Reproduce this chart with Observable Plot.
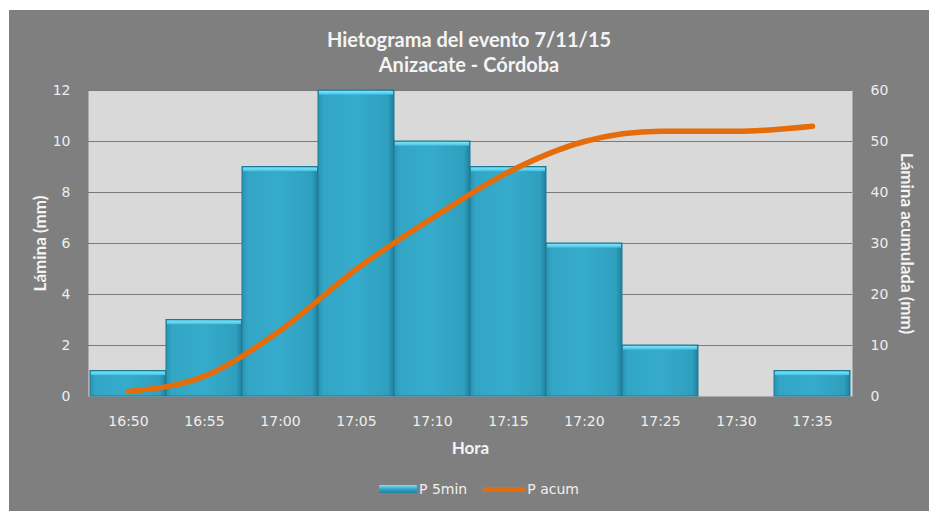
<!DOCTYPE html>
<html><head><meta charset="utf-8">
<script src="https://cdn.jsdelivr.net/npm/d3@7"></script>
<script src="https://cdn.jsdelivr.net/npm/@observablehq/plot@0.6"></script>
<style>
html,body{margin:0;padding:0;background:#fff;}
#box{position:absolute;left:9px;top:10px;width:920px;height:501px;background:#7f7f7f;overflow:hidden;font-family:Lato,"Open Sans",sans-serif;}
#title{position:absolute;left:0;width:920px;top:17px;text-align:center;color:#f4f4f4;font-weight:bold;font-size:20px;line-height:25px;}
#chart{position:absolute;left:0;top:0;}
#legend{position:absolute;top:470px;left:10px;width:920px;text-align:center;color:#f0f0f0;font-family:"DejaVu Sans",sans-serif;font-size:14px;}
#legend span{display:inline-block;vertical-align:middle;}
</style></head>
<body>
<div id="box">
  <div id="chart"></div>
  <div id="title">Hietograma del evento 7/11/15<br>Anizacate - Córdoba</div>
  <div id="legend"></div>
</div>
<script>
const horas = ["16:50","16:55","17:00","17:05","17:10","17:15","17:20","17:25","17:30","17:35"];
const p5min = [1,3,9,12,10,9,6,2,0,1];
const pacum = [1,4,13,25,35,44,50,52,52,53];
const leftTicks = [0,2,4,6,8,10,12];
const rightTicks = [0,10,20,30,40,50,60];
const ratio = 5; // right axis / left axis

const data = horas.map((h,i)=>({h, p:p5min[i], a:pacum[i]}));
const barsData = data.filter(d=>d.p>0);

const plot = Plot.plot({
  width: 920, height: 460,
  marginLeft: 79, marginRight: 77, marginTop: 80, marginBottom: 74,
  style: {background:"transparent", fontFamily:"'DejaVu Sans',sans-serif", fontSize:"14px", color:"#eeeeee"},
  x: {domain: horas, padding: 0, label: null},
  y: {domain: [0,12], label: null},
  marks: [
    Plot.frame({fill:"#d9d9d9", stroke:null}),
    Plot.gridY(leftTicks.filter(t=>t>0), {stroke:"#7a7a7a", strokeOpacity:1, strokeWidth:1.2}),
    Plot.barY(barsData, {x:"h", y:"p", fill:"url(#barGrad)", stroke:"#1d7a95", strokeWidth:1}),
    Plot.rect(barsData, {x:"h", y1:d=>d.p, y2:d=>d.p-0.22, fill:"url(#topGrad)", inset:1}),
    Plot.line(data, {x:"h", y:d=>d.a/ratio, stroke:"#e46c0a", strokeWidth:5.5, curve:"monotone-x", strokeLinecap:"round"}),
    Plot.axisY(leftTicks, {anchor:"left", tickSize:0, tickPadding:18, label:null, fill:"#eeeeee"}),
    Plot.axisY(rightTicks.map(t=>t/ratio), {anchor:"right", tickSize:0, tickPadding:18, label:null, tickFormat:d=>Math.round(d*ratio), fill:"#eeeeee", textAnchor:"start"}),
    Plot.axisX({tickSize:0, tickPadding:20, label:null, fill:"#eeeeee"}),
    Plot.text(["Hora"], {frameAnchor:"bottom", textAnchor:"middle", dy:57, fontWeight:"bold", fontSize:17, fill:"#f4f4f4", fontFamily:"Lato"}),
    Plot.text(["Lámina (mm)"], {frameAnchor:"left", textAnchor:"middle", dx:-48, rotate:-90, fontWeight:"bold", fontSize:17, fill:"#f4f4f4", fontFamily:"Lato"}),
    Plot.text(["Lámina acumulada (mm)"], {frameAnchor:"right", textAnchor:"middle", dx:54, rotate:90, fontWeight:"bold", fontSize:17, fill:"#f4f4f4", fontFamily:"Lato"})
  ]
});

const ns = "http://www.w3.org/2000/svg";
const defs = document.createElementNS(ns, "defs");
defs.innerHTML = `
<linearGradient id="barGrad" x1="0" x2="1" y1="0" y2="0">
  <stop offset="0" stop-color="#2a93b2"/>
  <stop offset="0.08" stop-color="#33a6c6"/>
  <stop offset="0.5" stop-color="#36abcb"/>
  <stop offset="0.92" stop-color="#2f9fbf"/>
  <stop offset="1" stop-color="#227f9c"/>
</linearGradient>
<linearGradient id="topGrad" x1="0" x2="0" y1="0" y2="1">
  <stop offset="0" stop-color="#7fe3f7"/>
  <stop offset="1" stop-color="#45c3e2"/>
</linearGradient>`;
plot.insertBefore(defs, plot.firstChild);
document.getElementById("chart").appendChild(plot);

document.getElementById("legend").innerHTML =
  `<span style="width:38px;height:8px;background:linear-gradient(#7fe3f7,#33a6c6 50%,#227f9c);border-radius:1px"></span>` +
  `<span style="margin-left:2px">P 5min</span>` +
  `<span style="width:42px;height:5px;background:#e46c0a;margin-left:16px"></span>` +
  `<span style="margin-left:2px">P acum</span>`;
</script>
</body></html>
